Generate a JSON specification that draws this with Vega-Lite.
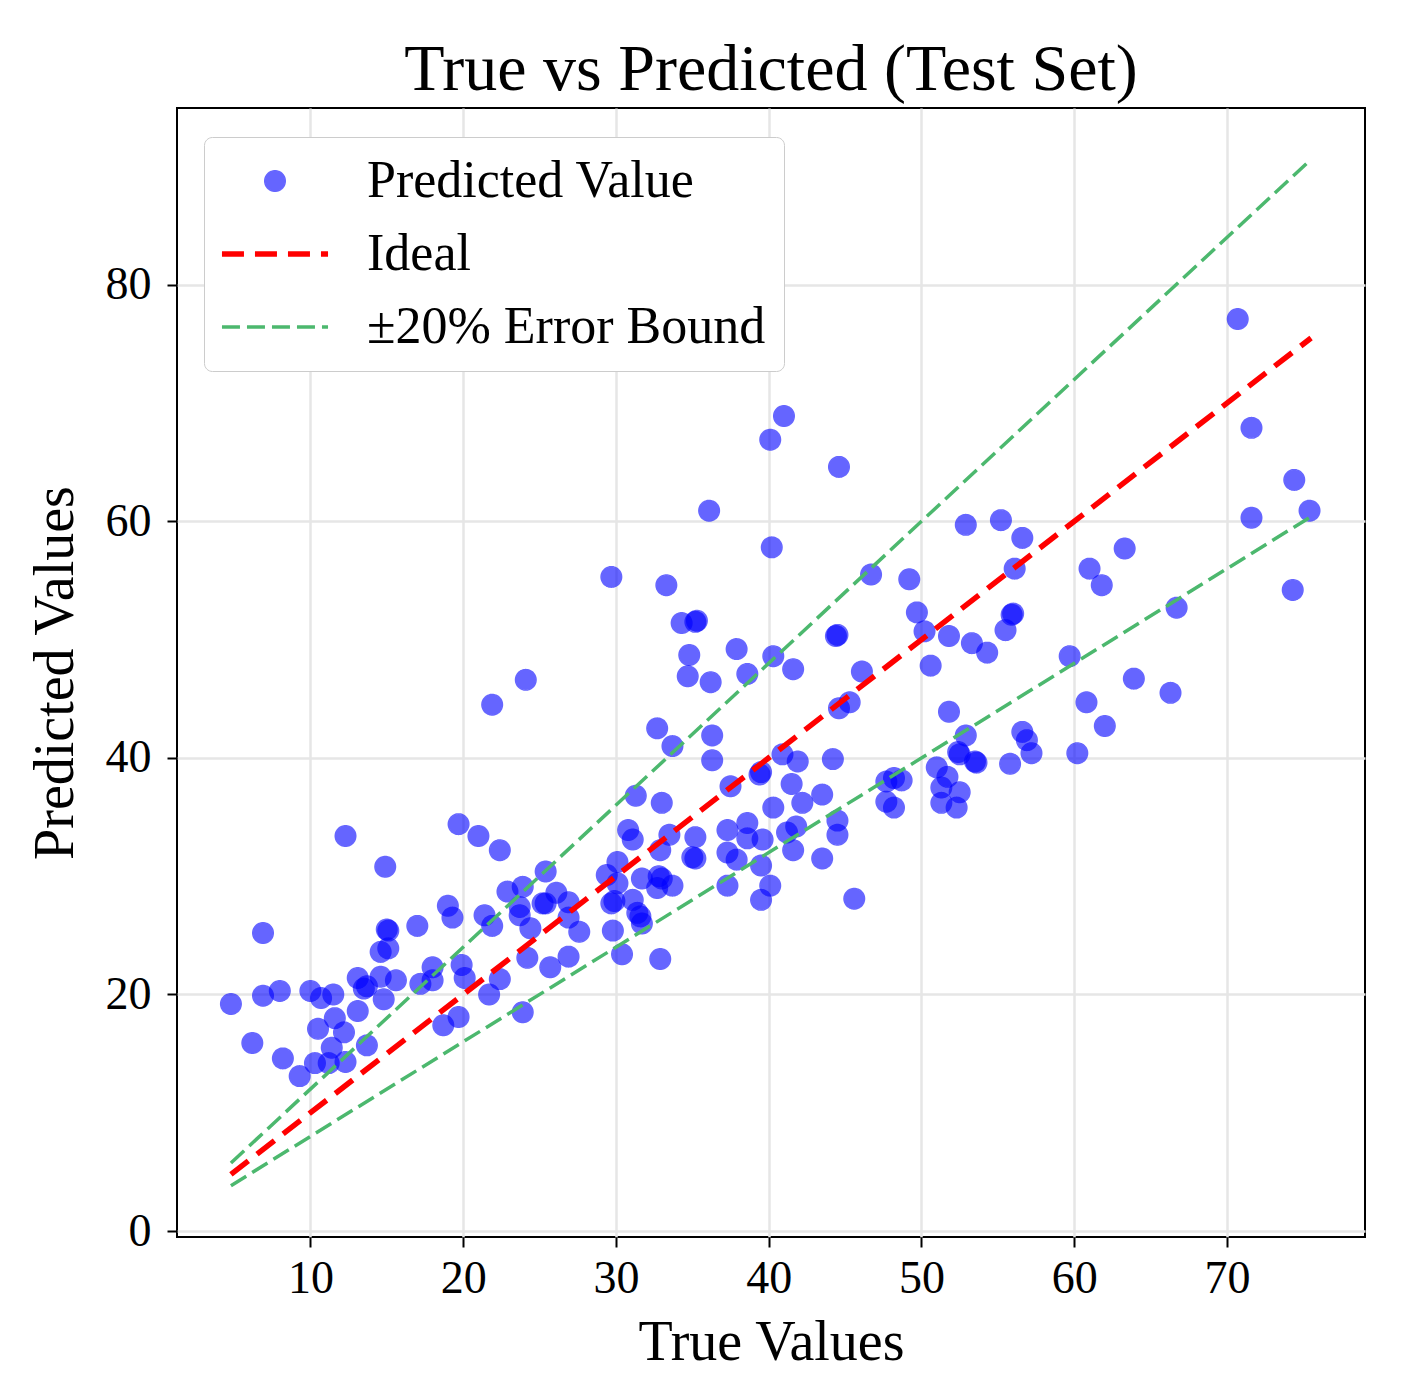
{
  "$schema": "https://vega.github.io/schema/vega-lite/v6.json",
  "width": 1188,
  "height": 1129,
  "autosize": "none",
  "padding": {"left": 177, "top": 108, "right": 43, "bottom": 160},
  "background": "white",
  "title": {
    "text": "True vs Predicted (Test Set)",
    "font": "Liberation Serif",
    "fontSize": 66,
    "fontWeight": "normal",
    "color": "black",
    "anchor": "middle",
    "baseline": "alphabetic",
    "offset": -48
  },
  "config": {
    "view": {"stroke": "black", "strokeWidth": 2},
    "font": "Liberation Serif",
    "axis": {
      "labelFont": "Liberation Serif",
      "titleFont": "Liberation Serif",
      "labelFontSize": 46,
      "titleFontSize": 56,
      "titleFontWeight": "normal",
      "labelColor": "black",
      "titleColor": "black",
      "tickColor": "black",
      "tickWidth": 2,
      "tickSize": 10,
      "domain": false,
      "grid": true,
      "gridColor": "#e6e6e6",
      "gridWidth": 2.5
    }
  },
  "datasets": {
    "points": [
      {"true_value": 12.3, "predicted": 33.4, "series": "Predicted Value"},
      {"true_value": 14.9, "predicted": 30.8, "series": "Predicted Value"},
      {"true_value": 19.7, "predicted": 34.4, "series": "Predicted Value"},
      {"true_value": 21.0, "predicted": 33.4, "series": "Predicted Value"},
      {"true_value": 22.4, "predicted": 32.2, "series": "Predicted Value"},
      {"true_value": 6.9, "predicted": 25.2, "series": "Predicted Value"},
      {"true_value": 19.0, "predicted": 27.5, "series": "Predicted Value"},
      {"true_value": 19.3, "predicted": 26.5, "series": "Predicted Value"},
      {"true_value": 15.0, "predicted": 25.5, "series": "Predicted Value"},
      {"true_value": 15.1, "predicted": 25.4, "series": "Predicted Value"},
      {"true_value": 17.0, "predicted": 25.8, "series": "Predicted Value"},
      {"true_value": 21.4, "predicted": 26.7, "series": "Predicted Value"},
      {"true_value": 21.9, "predicted": 25.8, "series": "Predicted Value"},
      {"true_value": 14.6, "predicted": 23.6, "series": "Predicted Value"},
      {"true_value": 15.1, "predicted": 23.9, "series": "Predicted Value"},
      {"true_value": 4.8, "predicted": 19.2, "series": "Predicted Value"},
      {"true_value": 6.9, "predicted": 19.9, "series": "Predicted Value"},
      {"true_value": 8.0, "predicted": 20.3, "series": "Predicted Value"},
      {"true_value": 10.0, "predicted": 20.3, "series": "Predicted Value"},
      {"true_value": 10.7, "predicted": 19.7, "series": "Predicted Value"},
      {"true_value": 11.5, "predicted": 20.0, "series": "Predicted Value"},
      {"true_value": 13.1, "predicted": 21.4, "series": "Predicted Value"},
      {"true_value": 13.5, "predicted": 20.5, "series": "Predicted Value"},
      {"true_value": 13.7, "predicted": 20.7, "series": "Predicted Value"},
      {"true_value": 14.6, "predicted": 21.5, "series": "Predicted Value"},
      {"true_value": 15.6, "predicted": 21.2, "series": "Predicted Value"},
      {"true_value": 14.8, "predicted": 19.6, "series": "Predicted Value"},
      {"true_value": 13.1, "predicted": 18.6, "series": "Predicted Value"},
      {"true_value": 17.2, "predicted": 20.9, "series": "Predicted Value"},
      {"true_value": 18.0, "predicted": 22.3, "series": "Predicted Value"},
      {"true_value": 18.0, "predicted": 21.2, "series": "Predicted Value"},
      {"true_value": 19.9, "predicted": 22.5, "series": "Predicted Value"},
      {"true_value": 20.1, "predicted": 21.4, "series": "Predicted Value"},
      {"true_value": 21.7, "predicted": 20.0, "series": "Predicted Value"},
      {"true_value": 6.2, "predicted": 15.9, "series": "Predicted Value"},
      {"true_value": 8.2, "predicted": 14.6, "series": "Predicted Value"},
      {"true_value": 9.3, "predicted": 13.1, "series": "Predicted Value"},
      {"true_value": 10.5, "predicted": 17.1, "series": "Predicted Value"},
      {"true_value": 11.6, "predicted": 18.0, "series": "Predicted Value"},
      {"true_value": 12.2, "predicted": 16.8, "series": "Predicted Value"},
      {"true_value": 11.4, "predicted": 15.5, "series": "Predicted Value"},
      {"true_value": 10.3, "predicted": 14.2, "series": "Predicted Value"},
      {"true_value": 11.2, "predicted": 14.2, "series": "Predicted Value"},
      {"true_value": 12.3, "predicted": 14.3, "series": "Predicted Value"},
      {"true_value": 13.7, "predicted": 15.7, "series": "Predicted Value"},
      {"true_value": 18.7, "predicted": 17.4, "series": "Predicted Value"},
      {"true_value": 19.7, "predicted": 18.1, "series": "Predicted Value"},
      {"true_value": 23.9, "predicted": 18.5, "series": "Predicted Value"},
      {"true_value": 24.1, "predicted": 46.6, "series": "Predicted Value"},
      {"true_value": 21.9, "predicted": 44.5, "series": "Predicted Value"},
      {"true_value": 32.7, "predicted": 42.5, "series": "Predicted Value"},
      {"true_value": 33.7, "predicted": 41.0, "series": "Predicted Value"},
      {"true_value": 31.3, "predicted": 36.8, "series": "Predicted Value"},
      {"true_value": 33.0, "predicted": 36.2, "series": "Predicted Value"},
      {"true_value": 25.4, "predicted": 30.4, "series": "Predicted Value"},
      {"true_value": 22.9, "predicted": 28.7, "series": "Predicted Value"},
      {"true_value": 23.9, "predicted": 29.1, "series": "Predicted Value"},
      {"true_value": 23.7, "predicted": 27.4, "series": "Predicted Value"},
      {"true_value": 25.2, "predicted": 27.7, "series": "Predicted Value"},
      {"true_value": 25.4, "predicted": 27.7, "series": "Predicted Value"},
      {"true_value": 26.1, "predicted": 28.6, "series": "Predicted Value"},
      {"true_value": 26.9, "predicted": 27.8, "series": "Predicted Value"},
      {"true_value": 26.9, "predicted": 26.5, "series": "Predicted Value"},
      {"true_value": 23.7, "predicted": 26.7, "series": "Predicted Value"},
      {"true_value": 24.4, "predicted": 25.6, "series": "Predicted Value"},
      {"true_value": 27.6, "predicted": 25.3, "series": "Predicted Value"},
      {"true_value": 24.2, "predicted": 23.1, "series": "Predicted Value"},
      {"true_value": 25.7, "predicted": 22.3, "series": "Predicted Value"},
      {"true_value": 26.9, "predicted": 23.2, "series": "Predicted Value"},
      {"true_value": 22.4, "predicted": 21.3, "series": "Predicted Value"},
      {"true_value": 30.4, "predicted": 23.4, "series": "Predicted Value"},
      {"true_value": 32.9, "predicted": 23.0, "series": "Predicted Value"},
      {"true_value": 30.8, "predicted": 33.9, "series": "Predicted Value"},
      {"true_value": 31.1, "predicted": 33.1, "series": "Predicted Value"},
      {"true_value": 32.9, "predicted": 32.2, "series": "Predicted Value"},
      {"true_value": 33.5, "predicted": 33.5, "series": "Predicted Value"},
      {"true_value": 35.2, "predicted": 33.3, "series": "Predicted Value"},
      {"true_value": 35.2, "predicted": 31.5, "series": "Predicted Value"},
      {"true_value": 35.0, "predicted": 31.6, "series": "Predicted Value"},
      {"true_value": 30.1, "predicted": 31.2, "series": "Predicted Value"},
      {"true_value": 29.4, "predicted": 30.1, "series": "Predicted Value"},
      {"true_value": 30.1, "predicted": 29.4, "series": "Predicted Value"},
      {"true_value": 31.7, "predicted": 29.8, "series": "Predicted Value"},
      {"true_value": 33.0, "predicted": 29.8, "series": "Predicted Value"},
      {"true_value": 32.8, "predicted": 30.0, "series": "Predicted Value"},
      {"true_value": 33.7, "predicted": 29.2, "series": "Predicted Value"},
      {"true_value": 32.7, "predicted": 29.0, "series": "Predicted Value"},
      {"true_value": 29.7, "predicted": 27.7, "series": "Predicted Value"},
      {"true_value": 29.9, "predicted": 27.9, "series": "Predicted Value"},
      {"true_value": 31.1, "predicted": 28.0, "series": "Predicted Value"},
      {"true_value": 31.4, "predicted": 26.9, "series": "Predicted Value"},
      {"true_value": 31.6, "predicted": 26.6, "series": "Predicted Value"},
      {"true_value": 31.7, "predicted": 26.0, "series": "Predicted Value"},
      {"true_value": 29.8, "predicted": 25.4, "series": "Predicted Value"},
      {"true_value": 37.5, "predicted": 37.6, "series": "Predicted Value"},
      {"true_value": 39.4, "predicted": 38.6, "series": "Predicted Value"},
      {"true_value": 39.5, "predicted": 38.8, "series": "Predicted Value"},
      {"true_value": 37.3, "predicted": 33.9, "series": "Predicted Value"},
      {"true_value": 37.3, "predicted": 32.0, "series": "Predicted Value"},
      {"true_value": 38.6, "predicted": 34.5, "series": "Predicted Value"},
      {"true_value": 38.6, "predicted": 33.2, "series": "Predicted Value"},
      {"true_value": 37.9, "predicted": 31.4, "series": "Predicted Value"},
      {"true_value": 39.6, "predicted": 33.1, "series": "Predicted Value"},
      {"true_value": 39.5, "predicted": 30.9, "series": "Predicted Value"},
      {"true_value": 40.1, "predicted": 29.2, "series": "Predicted Value"},
      {"true_value": 39.5, "predicted": 28.0, "series": "Predicted Value"},
      {"true_value": 37.3, "predicted": 29.2, "series": "Predicted Value"},
      {"true_value": 40.3, "predicted": 35.8, "series": "Predicted Value"},
      {"true_value": 41.5, "predicted": 37.8, "series": "Predicted Value"},
      {"true_value": 42.2, "predicted": 36.2, "series": "Predicted Value"},
      {"true_value": 43.5, "predicted": 36.9, "series": "Predicted Value"},
      {"true_value": 41.2, "predicted": 33.7, "series": "Predicted Value"},
      {"true_value": 41.8, "predicted": 34.2, "series": "Predicted Value"},
      {"true_value": 41.6, "predicted": 32.2, "series": "Predicted Value"},
      {"true_value": 43.5, "predicted": 31.5, "series": "Predicted Value"},
      {"true_value": 44.5, "predicted": 34.7, "series": "Predicted Value"},
      {"true_value": 44.5, "predicted": 33.5, "series": "Predicted Value"},
      {"true_value": 45.6, "predicted": 28.1, "series": "Predicted Value"},
      {"true_value": 47.7, "predicted": 38.0, "series": "Predicted Value"},
      {"true_value": 48.7, "predicted": 38.1, "series": "Predicted Value"},
      {"true_value": 48.2, "predicted": 38.3, "series": "Predicted Value"},
      {"true_value": 47.7, "predicted": 36.3, "series": "Predicted Value"},
      {"true_value": 48.2, "predicted": 35.8, "series": "Predicted Value"},
      {"true_value": 40.9, "predicted": 40.3, "series": "Predicted Value"},
      {"true_value": 41.9, "predicted": 39.7, "series": "Predicted Value"},
      {"true_value": 44.2, "predicted": 39.9, "series": "Predicted Value"},
      {"true_value": 36.3, "predicted": 41.9, "series": "Predicted Value"},
      {"true_value": 36.3, "predicted": 39.8, "series": "Predicted Value"},
      {"true_value": 41.0, "predicted": 68.9, "series": "Predicted Value"},
      {"true_value": 40.1, "predicted": 66.9, "series": "Predicted Value"},
      {"true_value": 44.6, "predicted": 64.6, "series": "Predicted Value"},
      {"true_value": 36.1, "predicted": 60.9, "series": "Predicted Value"},
      {"true_value": 40.2, "predicted": 57.8, "series": "Predicted Value"},
      {"true_value": 29.7, "predicted": 55.3, "series": "Predicted Value"},
      {"true_value": 33.3, "predicted": 54.6, "series": "Predicted Value"},
      {"true_value": 34.3, "predicted": 51.4, "series": "Predicted Value"},
      {"true_value": 35.2, "predicted": 51.5, "series": "Predicted Value"},
      {"true_value": 35.3, "predicted": 51.6, "series": "Predicted Value"},
      {"true_value": 34.8, "predicted": 48.7, "series": "Predicted Value"},
      {"true_value": 34.7, "predicted": 46.9, "series": "Predicted Value"},
      {"true_value": 36.2, "predicted": 46.4, "series": "Predicted Value"},
      {"true_value": 37.9, "predicted": 49.2, "series": "Predicted Value"},
      {"true_value": 38.6, "predicted": 47.1, "series": "Predicted Value"},
      {"true_value": 40.3, "predicted": 48.6, "series": "Predicted Value"},
      {"true_value": 41.6, "predicted": 47.5, "series": "Predicted Value"},
      {"true_value": 44.4, "predicted": 50.3, "series": "Predicted Value"},
      {"true_value": 44.5, "predicted": 50.4, "series": "Predicted Value"},
      {"true_value": 46.1, "predicted": 47.3, "series": "Predicted Value"},
      {"true_value": 44.6, "predicted": 44.2, "series": "Predicted Value"},
      {"true_value": 45.3, "predicted": 44.7, "series": "Predicted Value"},
      {"true_value": 52.9, "predicted": 59.7, "series": "Predicted Value"},
      {"true_value": 55.2, "predicted": 60.1, "series": "Predicted Value"},
      {"true_value": 56.6, "predicted": 58.6, "series": "Predicted Value"},
      {"true_value": 56.1, "predicted": 56.0, "series": "Predicted Value"},
      {"true_value": 46.7, "predicted": 55.5, "series": "Predicted Value"},
      {"true_value": 49.2, "predicted": 55.1, "series": "Predicted Value"},
      {"true_value": 49.7, "predicted": 52.3, "series": "Predicted Value"},
      {"true_value": 50.2, "predicted": 50.7, "series": "Predicted Value"},
      {"true_value": 51.8, "predicted": 50.3, "series": "Predicted Value"},
      {"true_value": 53.3, "predicted": 49.7, "series": "Predicted Value"},
      {"true_value": 54.3, "predicted": 48.9, "series": "Predicted Value"},
      {"true_value": 55.9, "predicted": 52.1, "series": "Predicted Value"},
      {"true_value": 56.0, "predicted": 52.2, "series": "Predicted Value"},
      {"true_value": 55.5, "predicted": 50.8, "series": "Predicted Value"},
      {"true_value": 50.6, "predicted": 47.8, "series": "Predicted Value"},
      {"true_value": 61.0, "predicted": 56.0, "series": "Predicted Value"},
      {"true_value": 61.8, "predicted": 54.6, "series": "Predicted Value"},
      {"true_value": 63.3, "predicted": 57.7, "series": "Predicted Value"},
      {"true_value": 59.7, "predicted": 48.6, "series": "Predicted Value"},
      {"true_value": 63.9, "predicted": 46.7, "series": "Predicted Value"},
      {"true_value": 60.8, "predicted": 44.7, "series": "Predicted Value"},
      {"true_value": 62.0, "predicted": 42.7, "series": "Predicted Value"},
      {"true_value": 60.2, "predicted": 40.4, "series": "Predicted Value"},
      {"true_value": 51.8, "predicted": 43.9, "series": "Predicted Value"},
      {"true_value": 52.9, "predicted": 41.9, "series": "Predicted Value"},
      {"true_value": 52.4, "predicted": 40.5, "series": "Predicted Value"},
      {"true_value": 52.5, "predicted": 40.3, "series": "Predicted Value"},
      {"true_value": 53.5, "predicted": 39.7, "series": "Predicted Value"},
      {"true_value": 53.6, "predicted": 39.6, "series": "Predicted Value"},
      {"true_value": 55.8, "predicted": 39.5, "series": "Predicted Value"},
      {"true_value": 56.6, "predicted": 42.2, "series": "Predicted Value"},
      {"true_value": 56.9, "predicted": 41.5, "series": "Predicted Value"},
      {"true_value": 57.2, "predicted": 40.4, "series": "Predicted Value"},
      {"true_value": 51.0, "predicted": 39.2, "series": "Predicted Value"},
      {"true_value": 51.7, "predicted": 38.4, "series": "Predicted Value"},
      {"true_value": 51.3, "predicted": 37.5, "series": "Predicted Value"},
      {"true_value": 52.5, "predicted": 37.1, "series": "Predicted Value"},
      {"true_value": 51.3, "predicted": 36.2, "series": "Predicted Value"},
      {"true_value": 52.3, "predicted": 35.8, "series": "Predicted Value"},
      {"true_value": 70.7, "predicted": 77.1, "series": "Predicted Value"},
      {"true_value": 71.6, "predicted": 67.9, "series": "Predicted Value"},
      {"true_value": 74.4, "predicted": 63.5, "series": "Predicted Value"},
      {"true_value": 75.4, "predicted": 60.9, "series": "Predicted Value"},
      {"true_value": 71.6, "predicted": 60.3, "series": "Predicted Value"},
      {"true_value": 74.3, "predicted": 54.2, "series": "Predicted Value"},
      {"true_value": 66.7, "predicted": 52.7, "series": "Predicted Value"},
      {"true_value": 66.3, "predicted": 45.5, "series": "Predicted Value"}
    ],
    "ideal": [
      {"true_value": 4.8, "predicted": 4.8},
      {"true_value": 75.5, "predicted": 75.5}
    ],
    "bounds": [
      {"true_value": 4.8, "predicted": 5.76, "line": "upper"},
      {"true_value": 75.5, "predicted": 90.6, "line": "upper"},
      {"true_value": 4.8, "predicted": 3.84, "line": "lower"},
      {"true_value": 75.5, "predicted": 60.4, "line": "lower"}
    ]
  },
  "encoding": {
    "x": {
      "field": "true_value",
      "type": "quantitative",
      "scale": {"domain": [1.27, 79.03], "nice": false, "zero": false},
      "axis": {"title": "True Values", "values": [10, 20, 30, 40, 50, 60, 70], "labelPadding": 9, "titlePadding": 14}
    },
    "y": {
      "field": "predicted",
      "type": "quantitative",
      "scale": {"domain": [-0.5, 94.94], "nice": false, "zero": false},
      "axis": {"title": "Predicted Values", "values": [0, 20, 40, 60, 80], "labelPadding": 16, "titlePadding": 21}
    }
  },
  "layer": [
    {
      "data": {"name": "points"},
      "mark": {"type": "point", "filled": true},
      "encoding": {
        "color": {
          "field": "series",
          "type": "nominal",
          "scale": {"domain": ["Predicted Value", "Ideal", "±20% Error Bound"], "range": ["#0000ff", "#ff0000", "#4cb86e"]},
          "legend": {
            "title": null,
            "orient": "none",
            "legendX": 27,
            "legendY": 29,
            "padding": 18,
            "fillColor": "white",
            "strokeColor": "#cccccc",
            "cornerRadius": 8,
            "labelFont": "Liberation Serif",
            "labelFontSize": 52,
            "labelColor": "black",
            "labelLimit": 1000,
            "labelOffset": 66,
            "symbolOffset": 27,
            "rowPadding": 21
          }
        },
        "stroke": {
          "field": "series",
          "type": "nominal",
          "scale": {"domain": ["Predicted Value", "Ideal", "±20% Error Bound"], "range": ["#0000ff", "#ff0000", "#4cb86e"]}
        },
        "opacity": {
          "field": "series",
          "type": "nominal",
          "scale": {"type": "ordinal", "domain": ["Predicted Value", "Ideal", "±20% Error Bound"], "range": [0.6, 1, 1]}
        },
        "shape": {
          "field": "series",
          "type": "nominal",
          "scale": {"domain": ["Predicted Value", "Ideal", "±20% Error Bound"], "range": ["circle", "M-2.5,0H2.5", "M-2.5,0H2.5"]}
        },
        "size": {
          "field": "series",
          "type": "nominal",
          "scale": {"type": "ordinal", "domain": ["Predicted Value", "Ideal", "±20% Error Bound"], "range": [420, 1800, 1800]}
        },
        "strokeWidth": {
          "field": "series",
          "type": "nominal",
          "scale": {"type": "ordinal", "domain": ["Predicted Value", "Ideal", "±20% Error Bound"], "range": [1.5, 5.5, 3.5]}
        },
        "strokeDash": {
          "field": "series",
          "type": "nominal",
          "scale": {"domain": ["Predicted Value", "Ideal", "±20% Error Bound"], "range": [[1, 0], [22, 11], [18, 7]]}
        }
      }
    },
    {
      "data": {"name": "bounds"},
      "mark": {"type": "line", "color": "#4cb86e", "strokeWidth": 3.5, "strokeDash": [18, 7]},
      "encoding": {"detail": {"field": "line", "type": "nominal"}}
    },
    {
      "data": {"name": "ideal"},
      "mark": {"type": "line", "color": "#ff0000", "strokeWidth": 5.5, "strokeDash": [22, 11]},
      "encoding": {}
    }
  ]
}
